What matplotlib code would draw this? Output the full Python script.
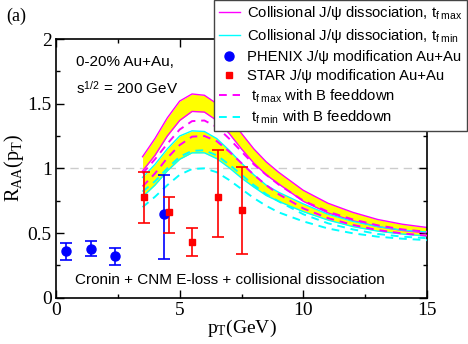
import matplotlib
matplotlib.use("Agg")
import matplotlib.pyplot as plt
import numpy as np

plt.rcParams['mathtext.fontset'] = 'custom'
plt.rcParams['mathtext.rm'] = 'Liberation Serif'
plt.rcParams['mathtext.sf'] = 'Liberation Sans'
plt.rcParams['mathtext.it'] = 'Liberation Serif:italic'

# theory curves
pt = [3.5, 4, 4.5, 5, 5.5, 6, 6.5, 7, 7.5, 8, 8.5, 9, 10, 11, 12, 13, 14, 15]
tmax_hi = [1.09, 1.23, 1.39, 1.52, 1.575, 1.565, 1.50, 1.40, 1.27, 1.15, 1.05, 0.97, 0.83, 0.73, 0.66, 0.605, 0.568, 0.543]
tmax_lo = [0.98, 1.10, 1.25, 1.37, 1.44, 1.435, 1.37, 1.27, 1.15, 1.04, 0.95, 0.88, 0.745, 0.655, 0.595, 0.55, 0.52, 0.50]
tmin_hi = [0.93, 1.03, 1.15, 1.25, 1.29, 1.285, 1.23, 1.14, 1.04, 0.95, 0.87, 0.815, 0.725, 0.645, 0.59, 0.55, 0.522, 0.508]
tmin_lo = [0.78, 0.87, 0.98, 1.07, 1.12, 1.12, 1.075, 1.005, 0.925, 0.855, 0.79, 0.745, 0.665, 0.60, 0.55, 0.515, 0.492, 0.476]
bmax_hi = [0.96, 1.07, 1.19, 1.30, 1.365, 1.37, 1.32, 1.23, 1.13, 1.03, 0.95, 0.875, 0.75, 0.665, 0.605, 0.56, 0.528, 0.51]
bmax_lo = [0.86, 0.96, 1.08, 1.18, 1.245, 1.25, 1.21, 1.13, 1.04, 0.95, 0.87, 0.80, 0.69, 0.615, 0.563, 0.523, 0.497, 0.48]
bmin_hi = [0.82, 0.90, 1.00, 1.09, 1.135, 1.14, 1.10, 1.03, 0.95, 0.87, 0.80, 0.745, 0.645, 0.575, 0.528, 0.493, 0.472, 0.46]
bmin_lo = [0.70, 0.78, 0.87, 0.95, 0.995, 1.0, 0.97, 0.91, 0.84, 0.77, 0.71, 0.66, 0.59, 0.535, 0.498, 0.472, 0.456, 0.445]

# data
phenix_pt = [0.4, 1.4, 2.4, 4.35]
phenix_r = [0.36, 0.38, 0.32, 0.65]
phenix_elo = [0.065, 0.06, 0.065, 0.35]
phenix_ehi = [0.065, 0.06, 0.065, 0.30]

star_pt = [3.55, 4.55, 5.5, 6.55, 7.5]
star_r = [0.78, 0.66, 0.43, 0.78, 0.68]
star_elo = [0.20, 0.16, 0.11, 0.31, 0.34]
star_ehi = [0.19, 0.12, 0.11, 0.36, 0.33]

fig = plt.figure(figsize=(4.68, 3.44), dpi=100)
ax = fig.add_axes([56/468, 1-297.7/344, (427-56)/468, (297.7-39)/344])

ax.axhline(1.0, color='#cccccc', lw=1, ls=(0, (6, 4)), zorder=0)

ax.fill_between(pt, tmax_lo, tmax_hi, color='#ffff00', lw=0, zorder=1)
ax.fill_between(pt, tmin_lo, tmin_hi, color='#ffff00', lw=0, zorder=1)
l1, = ax.plot(pt, tmax_hi, color='#ff00ff', lw=1, zorder=2)
ax.plot(pt, tmax_lo, color='#ff00ff', lw=1, zorder=2)
l2, = ax.plot(pt, tmin_hi, color='#00ffff', lw=1, zorder=2)
ax.plot(pt, tmin_lo, color='#00ffff', lw=1, zorder=2)
l5, = ax.plot(pt, bmax_hi, color='#ff00ff', lw=1.4, ls=(0, (4, 3)), zorder=3)
ax.plot(pt, bmax_lo, color='#ff00ff', lw=1.4, ls=(0, (4, 3)), zorder=3)
l6, = ax.plot(pt, bmin_hi, color='#00ffff', lw=1.4, ls=(0, (4, 3)), zorder=3)
ax.plot(pt, bmin_lo, color='#00ffff', lw=1.4, ls=(0, (4, 3)), zorder=3)

ax.errorbar(phenix_pt, phenix_r, yerr=[phenix_elo, phenix_ehi], fmt='none',
            ecolor='#0000ff', elinewidth=1.2, capsize=4, capthick=1.2, zorder=4)
l3, = ax.plot(phenix_pt, phenix_r, 'o', color='#0000ff', ms=6.5, ls='none', zorder=5)
ax.errorbar(star_pt, star_r, yerr=[star_elo, star_ehi], fmt='none',
            ecolor='#ff0000', elinewidth=1.2, capsize=4, capthick=1.2, zorder=4)
l4, = ax.plot(star_pt, star_r, 's', color='#ff0000', ms=5, ls='none', zorder=5)

ax.set_xlim(0, 15)
ax.set_ylim(0, 2)
ax.set_xticks([0, 5, 10, 15])
ax.set_xticks([2.5, 7.5, 12.5], minor=True)
ax.set_yticks([0, 0.5, 1, 1.5, 2])
ax.set_yticklabels(['0', '0.5', '1', '1.5', '2'])
ax.set_yticks([0.25, 0.75, 1.25, 1.75], minor=True)
ax.tick_params(which='both', direction='in', top=True, right=True)
ax.tick_params(which='major', length=6, width=1, labelsize=14, pad=3)
ax.tick_params(which='minor', length=3, width=1)
for lab in ax.get_xticklabels() + ax.get_yticklabels():
    lab.set_fontfamily('Liberation Serif')
for s in ax.spines.values():
    s.set_linewidth(1.2)

ax.set_xlabel(r'$\mathrm{p}_{\mathrm{T}}\mathrm{(GeV)}$', fontsize=14, labelpad=-1)
ax.set_ylabel(r'$\mathrm{R}_{\mathrm{AA}}\mathrm{(p}_{\mathrm{T}}\mathrm{)}$', fontsize=14.5, labelpad=1)

sans = 'Liberation Sans'
ax.text(0.8, 1.825, '0-20% Au+Au,', fontsize=11, family=sans, va='center')
ax.text(0.8, 1.61, r'$\mathsf{s}^{\mathsf{1/2}}$ = 200 GeV', fontsize=11, family=sans, va='center')
ax.text(0.75, 0.137, 'Cronin + CNM E-loss + collisional dissociation', fontsize=11, family=sans, va='center')
fig.text(6/468, 1-16/344, '(a)', fontsize=13, family='Liberation Serif', va='center')

handles = [l1, l2, l3, l4, l5, l6]
labels = [r'Collisional J/ψ dissociation, $\mathsf{t}_{\mathsf{f\ max}}$',
          r'Collisional J/ψ dissociation, $\mathsf{t}_{\mathsf{f\ min}}$',
          'PHENIX J/ψ modification Au+Au',
          'STAR J/ψ modification Au+Au',
          r' $\mathsf{t}_{\mathsf{f\ max}}$ with B feeddown',
          r' $\mathsf{t}_{\mathsf{f\ min}}$ with B feeddown']
leg = fig.legend(handles, labels, loc='upper right', bbox_to_anchor=(467/468, 1.0),
                 prop={'family': sans, 'size': 10.7}, frameon=True, fancybox=False,
                 edgecolor='#444444', framealpha=1, borderaxespad=0, handlelength=1.4,
                 handletextpad=0.5, labelspacing=0.32, borderpad=0.3)
leg.get_frame().set_linewidth(1)

fig.savefig('out.png', dpi=100)
